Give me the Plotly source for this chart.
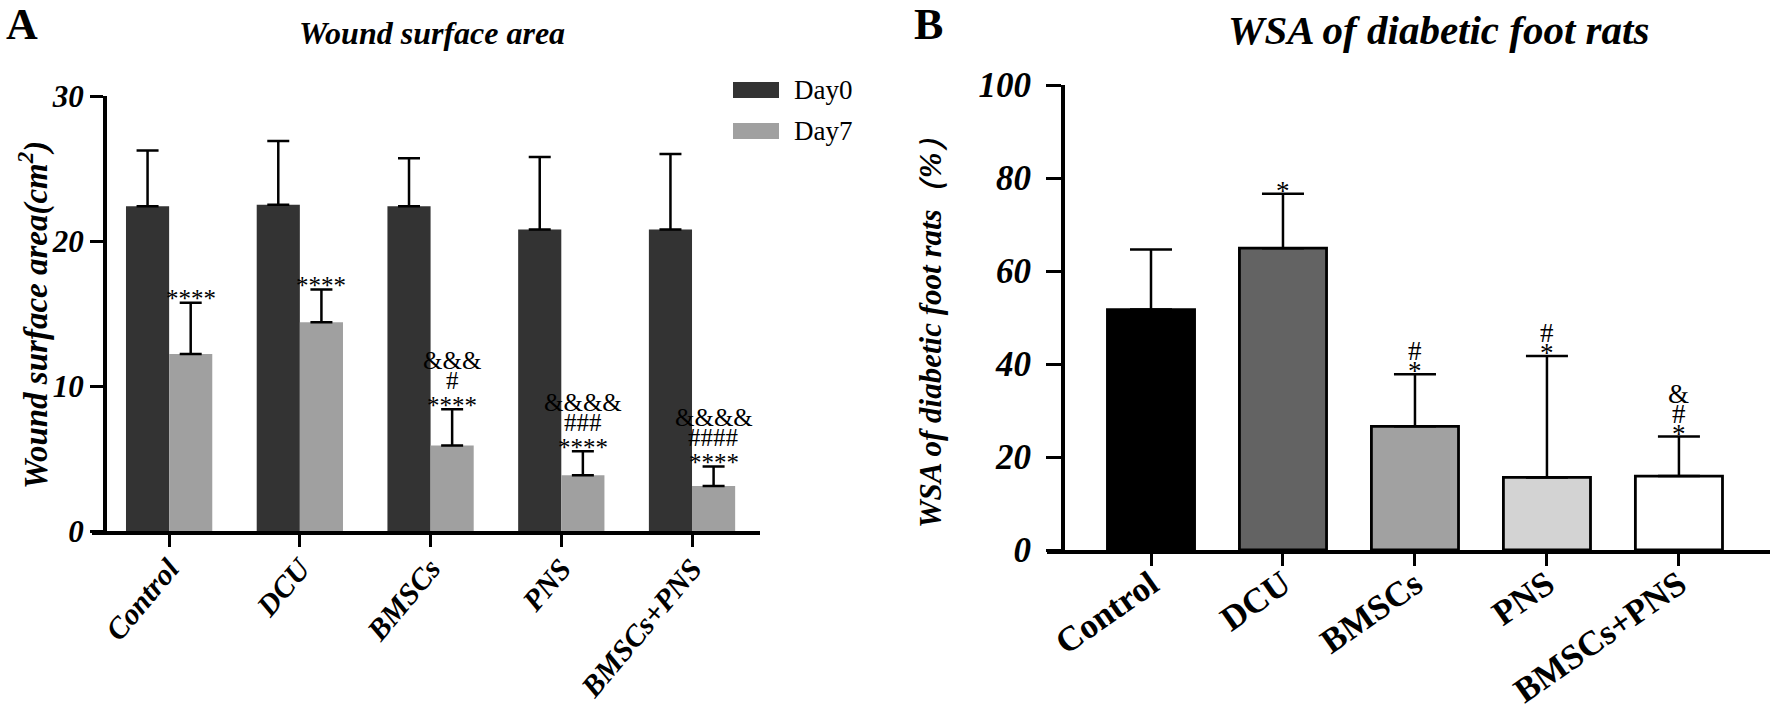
import plotly.graph_objects as go

# ---------------- data ----------------
categories = ["Control", "DCU", "BMSCs", "PNS", "BMSCs+PNS"]

day0_mean = [22.4, 22.5, 22.4, 20.8, 20.8]
day0_sd = [3.85, 4.4, 3.3, 5.0, 5.2]
day7_mean = [12.2, 14.4, 5.9, 3.85, 3.1]
day7_sd = [3.55, 2.25, 2.5, 1.65, 1.35]

wsa_mean = [51.7, 64.9, 26.6, 15.6, 15.9]
wsa_sd = [12.9, 11.7, 11.2, 26.1, 8.5]

a_marks = [["****"], ["****"], ["****", "#", "&&&"],
           ["****", "###", "&&&&"], ["****", "####", "&&&&"]]
b_marks = [[], ["*"], ["*", "#"], ["*", "#"], ["*", "#", "&"]]

day_colors = ["#333333", "#a0a0a0"]
wsa_colors = ["#000000", "#636363", "#a1a1a1", "#d3d3d3", "#ffffff"]

# ---------------- layout helpers ----------------
W, H = 1770, 711
SERIF = "Liberation Serif, Times New Roman, serif"


def px(x):
    return x / W


def py(y):
    return 1 - y / H


xs = list(range(len(categories)))

fig = go.Figure()

fig.add_trace(go.Bar(
    x=xs, y=day0_mean, name="Day0", marker=dict(color=day_colors[0], line=dict(width=0)),
    error_y=dict(type="data", symmetric=False, array=day0_sd, arrayminus=[0] * 5,
                 color="black", thickness=2.5, width=11),
    xaxis="x", yaxis="y", offsetgroup="a0", showlegend=False))
fig.add_trace(go.Bar(
    x=xs, y=day7_mean, name="Day7", marker=dict(color=day_colors[1], line=dict(width=0)),
    error_y=dict(type="data", symmetric=False, array=day7_sd, arrayminus=[0] * 5,
                 color="black", thickness=2.5, width=11),
    xaxis="x", yaxis="y", offsetgroup="a1", showlegend=False))

fig.add_trace(go.Bar(
    x=xs, y=wsa_mean, name="WSA",
    marker=dict(color=wsa_colors, line=dict(color="black", width=2.8)),
    error_y=dict(type="data", symmetric=False, array=wsa_sd, arrayminus=[0] * 5,
                 color="black", thickness=2.5, width=21),
    xaxis="x2", yaxis="y2", showlegend=False))

axis_common = dict(showline=True, linecolor="black", linewidth=4, showgrid=False,
                   zeroline=False, ticks="outside", tickcolor="black", tickwidth=3,
                   automargin=False)

fig.update_layout(
    width=W, height=H,
    margin=dict(l=0, r=0, t=0, b=0, pad=0, autoexpand=False),
    paper_bgcolor="white", plot_bgcolor="white",
    barmode="group", bargap=0.34, bargroupgap=0,
    xaxis=dict(domain=[px(92), px(760)], range=[-0.59, 4.52], tickvals=xs,
               ticktext=categories, tickangle=-50, ticklen=12, anchor="y",
               ticklabelstandoff=-8,
               tickfont=dict(family=SERIF, size=30, weight="bold", style="italic",
                             color="black"),
               **axis_common),
    yaxis=dict(domain=[py(531), py(96)], range=[0, 30], tickvals=[0, 10, 20, 30],
               ticklen=13, anchor="free", position=px(105),
               tickfont=dict(family=SERIF, size=31, weight="bold", style="italic",
                             color="black"),
               **axis_common),
    xaxis2=dict(domain=[px(1047), 1.0], range=[-0.788, 4.69], tickvals=xs,
                ticktext=categories, tickangle=-35, ticklen=12, anchor="y2",
                ticklabelstandoff=-16,
                tickfont=dict(family=SERIF, size=35, weight="bold", color="black"),
                **axis_common),
    yaxis2=dict(domain=[py(550), py(85)], range=[0, 100],
                tickvals=[0, 20, 40, 60, 80, 100], ticklen=15, anchor="free",
                position=px(1063), ticklabelstandoff=8,
                tickfont=dict(family=SERIF, size=35, weight="bold", style="italic",
                              color="black"),
                **axis_common),
)

ann = []


def paper_text(text, x, y, size, bold=True, italic=False, angle=0, xanchor="center"):
    f = dict(family=SERIF, size=size, color="black")
    if bold:
        f["weight"] = "bold"
    if italic:
        f["style"] = "italic"
    ann.append(dict(text=text, x=px(x), y=py(y), xref="paper", yref="paper",
                    showarrow=False, xanchor=xanchor, yanchor="middle",
                    textangle=angle, font=f))


# panel letters and titles
paper_text("A", 22, 25, 44)
paper_text("B", 928, 25, 44)
paper_text("Wound surface area", 432, 33, 32, italic=True)
paper_text("WSA of diabetic foot rats", 1438, 30, 41, italic=True)
# y titles
paper_text("Wound surface area(cm<sup>2</sup>)", 34, 315, 33, italic=True, angle=-90)
paper_text("WSA of diabetic foot rats（%）", 930, 325, 31, italic=True, angle=-90)

# legend (panel A)
legend_rows = [("Day0", day_colors[0], 90), ("Day7", day_colors[1], 131)]
shapes = []
for label, col, yc in legend_rows:
    shapes.append(dict(type="rect", xref="paper", yref="paper", x0=px(733), x1=px(779),
                       y0=py(yc - 8), y1=py(yc + 8), fillcolor=col, line=dict(width=0)))
    paper_text(label, 792, yc, 27, bold=False, xanchor="left")

# vertical offsets (px) of the stacked significance rows above the error cap
a_shift = [4, 29, 49]
b_shift = {"*": 3, "#": 23, "&": 43}

# significance marks, panel A (above Day7 bars)
for i, marks in enumerate(a_marks):
    top = day7_mean[i] + day7_sd[i]
    for j, m in enumerate(marks):
        ann.append(dict(text=m, x=i + 0.165, y=top, xref="x", yref="y", showarrow=False,
                        xanchor="center", yanchor="middle", yshift=a_shift[j],
                        font=dict(family=SERIF, size=25, color="black")))

# significance marks, panel B
for i, marks in enumerate(b_marks):
    top = wsa_mean[i] + wsa_sd[i]
    for j, m in enumerate(marks):
        ann.append(dict(text=m, x=i, y=top, xref="x2", yref="y2", showarrow=False,
                        xanchor="center", yanchor="middle", yshift=b_shift[m],
                        font=dict(family=SERIF, size=27, color="black")))

fig.update_layout(annotations=ann, shapes=shapes)

fig.write_html("out.html", config={"displayModeBar": False},
               post_script="document.body.style.margin='0';"
                           "document.body.style.overflow='hidden';")
